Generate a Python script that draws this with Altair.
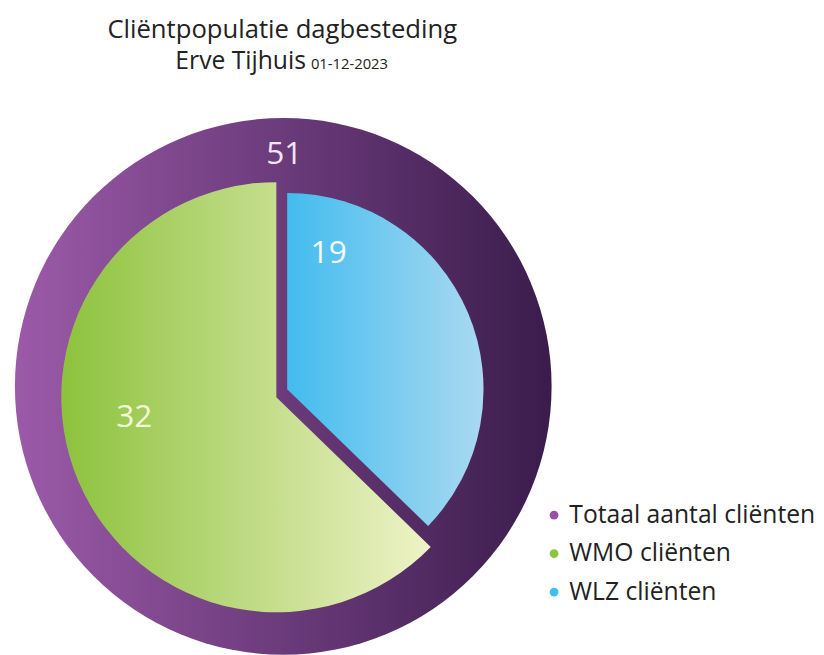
import altair as alt
import pandas as pd

categories = ["Totaal aantal cliënten", "WMO cliënten", "WLZ cliënten"]
values = [51, 32, 19]
legend_colors = ["#9b4fa8", "#8cc63f", "#3fbfef"]

title_line1 = "Cliëntpopulatie dagbesteding"
title_line2 = "Erve Tijhuis"
title_date = "01-12-2023"

total = values[0]
wlz = values[2]
wmo = values[1]

df_total = pd.DataFrame({"cat": [categories[0]], "start": [0], "end": [total], "label": [str(total)]})
df_wlz = pd.DataFrame({"cat": [categories[2]], "start": [0], "end": [wlz], "label": [str(wlz)]})
df_wmo = pd.DataFrame({"cat": [categories[1]], "start": [wlz], "end": [wlz + wmo], "label": [str(wmo)]})
df_leg = pd.DataFrame({"cat": categories, "v": values})

FONT = "Open Sans"
theta_scale = alt.Scale(domain=[0, total])


def grad(c0, c1):
    return alt.Gradient(
        gradient="linear",
        stops=[alt.GradientStop(color=c0, offset=0), alt.GradientStop(color=c1, offset=1)],
        x1=0, x2=1, y1=0, y2=0,
    )


def arc_layer(df, cx, cy, r, c0, c1):
    return alt.Chart(df).mark_arc(radius=r, color=grad(c0, c1)).encode(
        theta=alt.Theta("start:Q", scale=theta_scale, stack=None),
        theta2="end:Q",
        x=alt.value(cx),
        y=alt.value(cy),
    )


purple = arc_layer(df_total, 276, 376, 272, "#9c5aa9", "#3a1c4c")
green = arc_layer(df_wmo, 269, 387, 218, "#8cc23c", "#eff3c8")
blue = arc_layer(df_wlz, 280, 379, 199, "#42bcee", "#aad9f1")


def label_layer(df, x, y, color):
    return alt.Chart(df).mark_text(font=FONT, fontSize=32, color=color, align="center", baseline="middle").encode(
        text="label:N", x=alt.value(x), y=alt.value(y)
    )


lab51 = label_layer(df_total, 277, 141, "#f1e6f4")
lab19 = label_layer(df_wlz, 322, 241, "#f2fbff")
lab32 = label_layer(df_wmo, 125, 407, "#f3f8d8")

t1 = alt.Chart(pd.DataFrame({"t": [title_line1]})).mark_text(
    font=FONT, fontSize=26, color="#222222", align="center", baseline="alphabetic"
).encode(text="t:N", x=alt.value(275), y=alt.value(23))
t2 = alt.Chart(pd.DataFrame({"t": [title_line2]})).mark_text(
    font=FONT, fontSize=25, color="#222222", align="right", baseline="alphabetic"
).encode(text="t:N", x=alt.value(299), y=alt.value(54))
t3 = alt.Chart(pd.DataFrame({"t": [title_date]})).mark_text(
    font=FONT, fontSize=15, color="#222222", align="left", baseline="alphabetic"
).encode(text="t:N", x=alt.value(304), y=alt.value(54))

legend = alt.Chart(df_leg).mark_point(filled=True, opacity=0).encode(
    x=alt.value(0),
    y=alt.value(0),
    color=alt.Color(
        "cat:N",
        scale=alt.Scale(domain=categories, range=legend_colors),
        legend=alt.Legend(
            title=None,
            orient="none",
            legendX=538,
            legendY=494,
            symbolType="circle",
            symbolSize=80,
            symbolOpacity=1,
            symbolStrokeWidth=0,
            labelFont=FONT,
            labelFontSize=25,
            labelColor="#222222",
            labelOffset=3,
            rowPadding=13,
            labelLimit=400,
        ),
    ),
)

chart = alt.layer(purple, green, blue, lab51, lab19, lab32, t1, t2, t3, legend).properties(
    width=816, height=660, padding=0
).configure_view(stroke=None)

chart.save("out.html", embed_options={"renderer": "svg", "actions": False})
